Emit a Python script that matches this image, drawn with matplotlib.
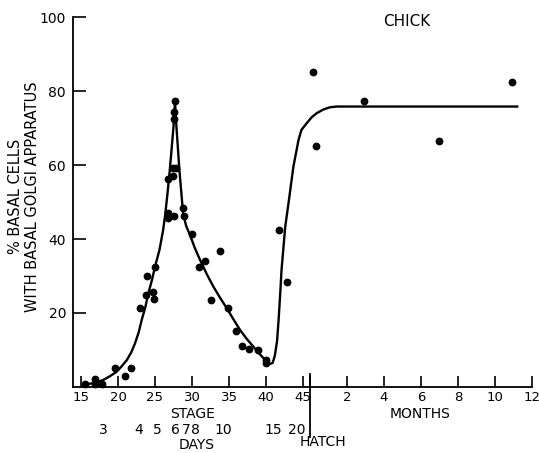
import matplotlib
matplotlib.use("Agg")
import matplotlib.pyplot as plt
import matplotlib.transforms as mtransforms
import numpy as np

plt.rcParams['font.family'] = ['DejaVu Sans']

# ---- data ----
# pre-hatch observations: embryonic stage vs % basal cells
pre_stage = [15.5, 16.9, 16.9, 17.9, 19.6, 20.9, 21.8, 23.0, 23.9, 23.8, 24.7, 24.8, 25.0,
             27.7, 27.6, 27.6, 27.4, 27.9, 27.5, 26.8, 26.8, 26.8, 27.6, 28.8, 28.9,
             30.0, 30.9, 31.8, 32.6, 33.8, 34.9, 35.9, 36.8, 37.7, 38.9, 40.0, 40.0, 41.8, 42.9]
pre_value = [0.8, 2.2, 0.8, 0.8, 5.1, 3.0, 5.2, 21.4, 30.1, 25.0, 25.8, 23.7, 32.3,
             77.3, 74.2, 72.3, 59.1, 59.1, 57.1, 56.2, 46.9, 45.8, 46.2, 48.3, 46.2,
             41.3, 32.3, 34.1, 23.4, 36.8, 21.4, 15.2, 11.2, 10.2, 10.0, 7.2, 6.5, 42.4, 28.3]
# post-hatch observations: months after hatching
post_month = [0.15, 0.32, 2.92, 6.97, 10.9]
post_value = [85.2, 65.1, 77.3, 66.5, 82.4]

# fitted curve (hand drawn in the original)
curve_stage = [15.3, 16.5, 17.3, 18.0, 18.9, 19.8, 20.5, 21.2, 21.8, 22.3, 22.8, 23.2,
               23.7, 24.1, 24.6, 25.0, 25.6, 26.1, 26.4, 26.7,
               27.0, 27.5, 27.7, 27.9, 28.3, 28.8, 29.2, 29.7, 30.4, 31.1, 32.0, 32.9,
               33.8, 34.7, 35.6, 36.5, 37.4, 38.3, 39.1, 39.9, 40.5, 40.9, 41.2, 41.5,
               41.7, 41.9, 42.1, 42.6, 43.1, 43.7, 44.4, 44.8, 45.5]
curve_stage_val = [0.5, 1.0, 1.4, 1.9, 2.9, 4.1, 5.6, 7.3, 9.4, 11.8, 14.8, 18.1,
                   21.6, 25.3, 29.0, 32.5, 37.0, 42.4, 46.9, 52.5,
                   58.6, 70.3, 77.1, 70.3, 58.6, 46.9, 43.6, 41.2, 37.5, 34.3, 30.5, 27.1,
                   24.1, 21.3, 18.3, 15.4, 13.0, 10.9, 9.0, 7.3, 6.2, 6.5, 8.5, 12.5,
                   18.0, 24.4, 31.6, 43.3, 50.5, 59.5, 66.8, 69.5, 71.3]
curve_month = [0.09, 0.36, 0.72, 1.08, 1.44, 11.2]
curve_month_val = [72.9, 74.0, 75.0, 75.6, 75.8, 75.8]

stage_ticks = [15, 20, 25, 30, 35, 40, 45]
month_ticks = [2, 4, 6, 8, 10, 12]
day_labels = ['3', '4', '5', '6', '7', '8', '10', '15', '20']
day_stage = [17.97, 22.84, 25.27, 27.7, 29.19, 30.4, 34.19, 40.95, 44.19]

HATCH_STAGE = 45.95
STAGE_PER_MONTH = 2.5


def month_pos(m):
    return HATCH_STAGE + STAGE_PER_MONTH * np.asarray(m, dtype=float)


W, H = 539, 453
fig = plt.figure(figsize=(W / 100, H / 100), dpi=100)
ax = fig.add_axes([73 / W, 1 - 387 / H, (532 - 73) / W, (387 - 17) / H])

curve_x = np.concatenate([curve_stage, month_pos(curve_month)])
curve_y = np.concatenate([curve_stage_val, curve_month_val])
ax.plot(curve_x, curve_y, color='black', lw=1.7, solid_joinstyle='round', zorder=2)

ax.plot(pre_stage, pre_value, 'o', color='black', ms=4.6, zorder=3, clip_on=False)
ax.plot(month_pos(post_month), post_value, 'o', color='black', ms=4.6, zorder=3)

ax.set_xlim(13.92, month_pos(12))
ax.set_ylim(0, 100)

for s in ['top', 'right']:
    ax.spines[s].set_visible(False)
for s in ['left', 'bottom']:
    ax.spines[s].set_linewidth(1.3)

ax.set_yticks([20, 40, 60, 80, 100])
ax.set_yticklabels(['20', '40', '60', '80', '100'], fontsize=10)
ax.tick_params(axis='y', direction='in', length=9, width=1.2, pad=5)

xt = list(stage_ticks) + [HATCH_STAGE] + list(month_pos(month_ticks))
xl = [str(t) for t in stage_ticks] + [''] + [str(t) for t in month_ticks]
ax.set_xticks(xt)
ax.set_xticklabels(xl, fontsize=9.5)
ax.tick_params(axis='x', direction='in', length=8, width=1.2, pad=3)

# hatch line
trans = mtransforms.blended_transform_factory(ax.transData, ax.transAxes)
ax.plot([HATCH_STAGE, HATCH_STAGE], [0.035, -0.135], color='black', lw=1.3,
        transform=trans, clip_on=False)

# days row
for lab, s in zip(day_labels, day_stage):
    ax.text(s, -(430 - 387) / 370, lab, transform=trans, ha='center', va='center', fontsize=10)


def ftext(px, py, s, **kw):
    fig.text(px / W, 1 - py / H, s, ha='center', va='center', **kw)


ftext(193, 414, 'STAGE', fontsize=10)
ftext(197, 445, 'DAYS', fontsize=10)
ftext(420, 414, 'MONTHS', fontsize=10)
ftext(323, 442, 'HATCH', fontsize=10)
ftext(407, 22, 'CHICK', fontsize=11)
ftext(16, 196, '% BASAL CELLS', fontsize=10.5, rotation=90)
ftext(33, 197, 'WITH BASAL GOLGI APPARATUS', fontsize=10.5, rotation=90)

fig.savefig('out.png', dpi=100)
